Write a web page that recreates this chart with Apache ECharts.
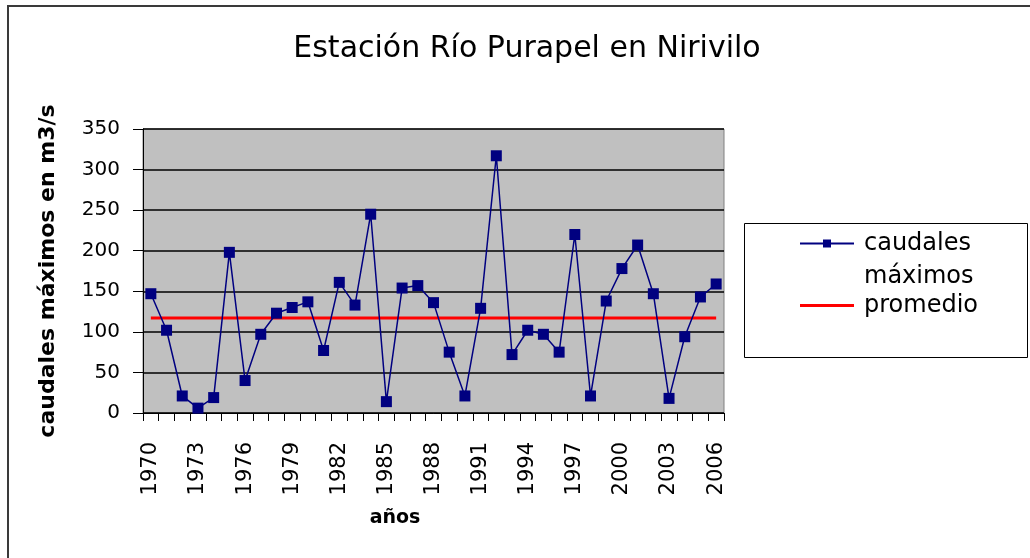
<!DOCTYPE html>
<html>
<head>
<meta charset="utf-8">
<title>Estación Río Purapel en Nirivilo</title>
<script src="https://cdn.jsdelivr.net/npm/echarts@6.0.0/dist/echarts.min.js"></script>
<style>
  html, body { margin: 0; padding: 0; background: #fff; }
  #chart { width: 1030px; height: 558px; }
</style>
</head>
<body>
<div id="chart"></div>
<script>
  const years = ['1970', '1971', '1972', '1973', '1974', '1975', '1976', '1977', '1978', '1979',
    '1980', '1981', '1982', '1983', '1984', '1985', '1986', '1987', '1988', '1989',
    '1990', '1991', '1992', '1993', '1994', '1995', '1996', '1997', '1998', '1999',
    '2000', '2001', '2002', '2003', '2004', '2005', '2006'];
  const caudalesMaximos = [147, 102, 21, 6, 19, 198, 40, 97, 123, 130,
    137, 77, 161, 133, 245, 14, 154, 157, 136, 75,
    21, 129, 317, 72, 102, 97, 75, 220, 21, 138,
    178, 207, 147, 18, 94, 143, 159];
  const promedio = 117;
  const yTicks = [0, 50, 100, 150, 200, 250, 300, 350];

  const font = 'DejaVu Sans, Verdana, sans-serif';
  const chart = echarts.init(document.getElementById('chart'));

  let option = {
    backgroundColor: '#ffffff',
    animation: false,
    title: {
      text: 'Estación Río Purapel en Nirivilo',
      left: 522,
      textAlign: 'center',
      top: 29,
      textStyle: { fontFamily: font, fontSize: 30, fontWeight: 'normal', color: '#000' }
    },
    graphic: [
      {
        type: 'rect',
        shape: { x: 8, y: 6, width: 1040, height: 600 },
        style: { fill: 'none', stroke: '#3a3a3a', lineWidth: 2 },
        silent: true
      },
      {
        type: 'rect',
        shape: { x: 744.5, y: 223.5, width: 283, height: 134 },
        style: { fill: '#fff', stroke: '#000', lineWidth: 1 },
        z: 1,
        silent: true
      }
    ],
    legend: {
      orient: 'vertical',
      left: 799,
      top: 194,
      z: 5,
      itemWidth: 54,
      itemHeight: 10,
      itemGap: -4,
      padding: 0,
      textStyle: { fontFamily: font, fontSize: 24, color: '#000', lineHeight: 33, padding: [0, 0, 0, 5] },
      data: [
        { name: 'caudales máximos' },
        {
          name: 'promedio',
          icon: 'path://M0,3.5 L54,3.5 L54,6.5 L0,6.5 Z'
        }
      ],
      formatter: function (name) {
        // first line empty so "caudales" sits level with the icon, as in the sheet
        return name === 'caudales máximos' ? ' \ncaudales\nmáximos' : name;
      }
    },
    grid: {
      left: 143,
      top: 129,
      right: 306,
      bottom: 145,
      show: true,
      backgroundColor: '#c0c0c0',
      borderColor: '#808080',
      borderWidth: 1
    },
    xAxis: {
      type: 'category',
      data: years,
      boundaryGap: true,
      name: 'años',
      nameLocation: 'middle',
      nameGap: 96,
      nameTextStyle: {
        fontFamily: font, fontSize: 19, fontWeight: 'bold', color: '#000',
        padding: [0, 77, 0, 0]
      },
      axisLine: { lineStyle: { color: '#000', width: 1 } },
      axisTick: { show: true, interval: 0, length: 8, lineStyle: { color: '#000' } },
      axisLabel: {
        interval: 2,
        rotate: 90,
        margin: 29,
        fontFamily: font,
        fontSize: 21,
        color: '#000'
      },
      splitLine: { show: false }
    },
    yAxis: {
      type: 'value',
      min: yTicks[0],
      max: yTicks[yTicks.length - 1],
      interval: 50,
      name: 'caudales máximos en m3/s',
      nameLocation: 'middle',
      nameGap: 84,
      nameTextStyle: { fontFamily: font, fontSize: 22, fontWeight: 'bold', color: '#000' },
      axisLine: { show: true, lineStyle: { color: '#000', width: 1 } },
      axisTick: { show: true, length: 10, lineStyle: { color: '#000' } },
      axisLabel: { margin: 23, fontFamily: font, fontSize: 20, color: '#000' },
      splitLine: { show: true, lineStyle: { color: '#000', width: 1.5 } }
    },
    series: [
      {
        name: 'caudales máximos',
        type: 'line',
        data: caudalesMaximos,
        symbol: 'rect',
        symbolSize: 11,
        showAllSymbol: true,
        z: 3,
        itemStyle: { color: '#000080' },
        lineStyle: { color: '#000080', width: 1.5 }
      },
      {
        name: 'promedio',
        type: 'line',
        data: years.map(() => promedio),
        symbol: 'none',
        z: 2,
        itemStyle: { color: '#ff0000' },
        lineStyle: { color: '#ff0000', width: 3 }
      }
    ]
  };

  chart.setOption(option);
</script>
</body>
</html>
